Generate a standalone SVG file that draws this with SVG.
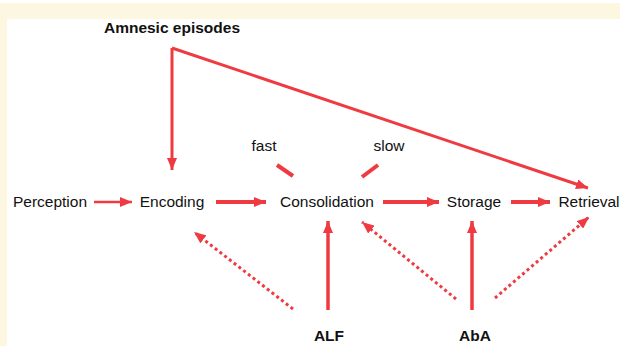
<svg xmlns="http://www.w3.org/2000/svg" width="620" height="346" viewBox="0 0 620 346">
<style>
text{font-family:"Liberation Sans",Arial,sans-serif;font-size:15.5px;fill:#111;text-anchor:middle}
.b{font-weight:bold}
.c{fill:none;stroke:#ef3a42}
.d{stroke-dasharray:3 3}
</style>
<defs>
<marker id="ah" markerUnits="userSpaceOnUse" viewBox="0 0 12 10" refX="12" refY="5" markerWidth="12" markerHeight="10" orient="auto">
<path d="M0,0 L12,5 L0,10 z" fill="#ef3a42"/>
</marker>
</defs>
<rect x="0" y="0" width="620" height="346" fill="#fff"/>
<rect x="0" y="3" width="620" height="16" fill="#fdf7e1"/>
<rect x="0" y="3" width="7" height="343" fill="#fdf7e1"/>
<g id="amnesic"><text class="b" x="172" y="33">Amnesic episodes</text></g>
<g id="perception"><text x="50" y="207">Perception</text></g>
<g id="encoding"><text x="172" y="207">Encoding</text></g>
<g id="consolidation"><text x="327" y="207">Consolidation</text></g>
<g id="storage"><text x="474" y="207">Storage</text></g>
<g id="retrieval"><text x="589" y="207">Retrieval</text></g>
<g id="fast"><text x="264" y="151">fast</text></g>
<g id="slow"><text x="389" y="151">slow</text></g>
<g id="alf"><text class="b" x="329" y="341">ALF</text></g>
<g id="aba"><text class="b" x="475" y="341">AbA</text></g>
<g id="connectors">
<polyline class="c" stroke-width="3" points="172,48 588,188" marker-end="url(#ah)"/>
<polyline class="c" stroke-width="3" points="172,48 172,170" marker-end="url(#ah)"/>
<line class="c" stroke-width="2.5" x1="94" y1="202" x2="132" y2="202" marker-end="url(#ah)"/>
<line class="c" stroke-width="4" x1="216" y1="202" x2="266" y2="202" marker-end="url(#ah)"/>
<line class="c" stroke-width="4" x1="383" y1="202" x2="439" y2="202" marker-end="url(#ah)"/>
<line class="c" stroke-width="4" x1="511" y1="202" x2="550" y2="202" marker-end="url(#ah)"/>
<line class="c" stroke-width="4" x1="277" y1="165" x2="293" y2="176"/>
<line class="c" stroke-width="4" x1="362" y1="177" x2="378" y2="165"/>
<line class="c" stroke-width="3.5" x1="328" y1="310" x2="328" y2="221" marker-end="url(#ah)"/>
<line class="c" stroke-width="3.5" x1="472" y1="310" x2="472" y2="221" marker-end="url(#ah)"/>
<line class="c d" stroke-width="3" x1="293" y1="309" x2="194" y2="232" marker-end="url(#ah)"/>
<line class="c d" stroke-width="3" x1="456" y1="299" x2="362" y2="222" marker-end="url(#ah)"/>
<line class="c d" stroke-width="3" x1="495" y1="298" x2="589" y2="217" marker-end="url(#ah)"/>
</g>
</svg>
